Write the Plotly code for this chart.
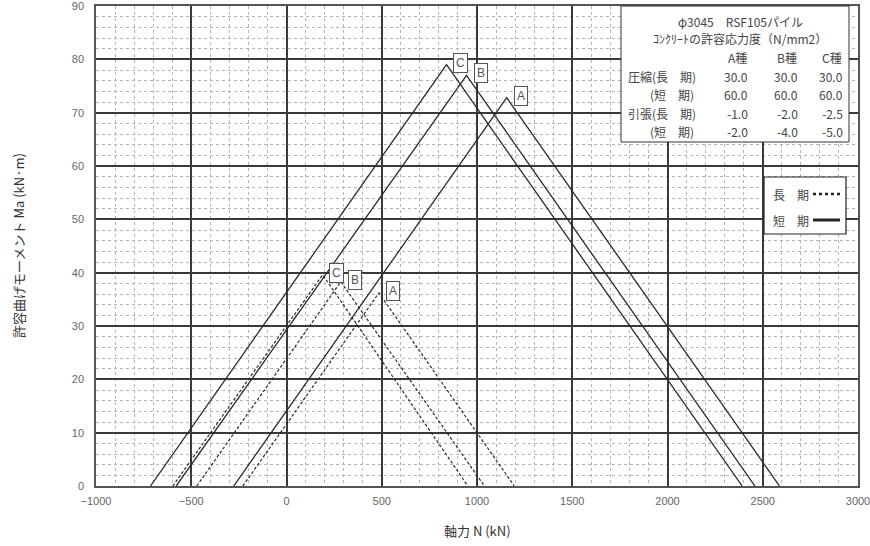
import plotly.graph_objects as go

# ---- data ----
types = ["A", "B", "C"]
# short-term (solid): left intercept N, peak N, peak M, right intercept N
short_left = [-277, -579, -714]
short_peak_n = [1156, 945, 840]
short_peak_m = [72.8, 77.0, 79.0]
short_right = [2588, 2459, 2392]
# long-term (dashed)
long_left = [-229, -471, -597]
long_peak_n = [485, 285, 190]
long_peak_m = [36.2, 38.3, 39.6]
long_right = [1196, 1039, 952]

x_ticks = [-1000, -500, 0, 500, 1000, 1500, 2000, 2500, 3000]
y_ticks = [0, 10, 20, 30, 40, 50, 60, 70, 80, 90]

table_title1 = "φ3045　RSF105パイル"
table_title2 = "ｺﾝｸﾘｰﾄの許容応力度（N/mm2）"
table_cols = ["A種", "B種", "C種"]
table_rows = ["圧縮(長　期)", "(短　期)", "引張(長　期)", "(短　期)"]
table_vals = [["30.0", "30.0", "30.0"],
              ["60.0", "60.0", "60.0"],
              ["-1.0", "-2.0", "-2.5"],
              ["-2.0", "-4.0", "-5.0"]]

W, H = 870, 546
ML, MR, MT, MB = 96, 12, 6, 60
PW, PH = W - ML - MR, H - MT - MB


def px(x):
    return (x - ML) / PW


def py(y):
    return (MT + PH - y) / PH


fig = go.Figure()
LINE = "#2a2a2a"
for i, t in enumerate(types):
    fig.add_trace(go.Scatter(
        x=[short_left[i], short_peak_n[i], short_right[i]],
        y=[0, short_peak_m[i], 0], mode="lines",
        line=dict(color=LINE, width=1.3), showlegend=False, hoverinfo="skip"))
    fig.add_trace(go.Scatter(
        x=[long_left[i], long_peak_n[i], long_right[i]],
        y=[0, long_peak_m[i], 0], mode="lines",
        line=dict(color=LINE, width=1.2, dash="3px,2px"), showlegend=False, hoverinfo="skip"))

annotations = []
for i, t in enumerate(types):
    for xn, ym in ((short_peak_n[i], short_peak_m[i]), (long_peak_n[i], long_peak_m[i])):
        annotations.append(dict(
            x=xn, y=ym, xref="x", yref="y", text=t, showarrow=False,
            xshift=14, yshift=2, bgcolor="white", bordercolor="#555", borderwidth=1,
            borderpad=2, font=dict(family="Liberation Sans", size=12, color="#555")))

TF = "Noto Sans CJK JP"
TC = "#444"
# table
annotations.append(dict(x=px(740), y=py(22), xref="paper", yref="paper", text=table_title1,
                        showarrow=False, xanchor="center", yanchor="middle",
                        font=dict(family=TF, size=12, color=TC)))
annotations.append(dict(x=px(740), y=py(39), xref="paper", yref="paper", text=table_title2,
                        showarrow=False, xanchor="center", yanchor="middle",
                        font=dict(family=TF, size=12, color=TC)))
col_x = [750, 800, 845]
for j, c in enumerate(table_cols):
    annotations.append(dict(x=px(col_x[j] - 1), y=py(58), xref="paper", yref="paper", text=c,
                            showarrow=False, xanchor="right", yanchor="middle",
                            font=dict(family=TF, size=12, color=TC)))
row_y = [76, 94.5, 113, 131]
for r, lab in enumerate(table_rows):
    lx = 626 if lab.startswith("圧") or lab.startswith("引") else 648
    annotations.append(dict(x=px(lx), y=py(row_y[r]), xref="paper", yref="paper", text=lab,
                            showarrow=False, xanchor="left", yanchor="middle",
                            font=dict(family=TF, size=12, color=TC)))
    for j in range(3):
        annotations.append(dict(x=px(col_x[j]), y=py(row_y[r]), xref="paper", yref="paper",
                                text=table_vals[r][j], showarrow=False, xanchor="right",
                                yanchor="middle", font=dict(family=TF, size=12, color=TC)))

# legend labels
annotations.append(dict(x=px(771), y=py(194), xref="paper", yref="paper", text="長　期",
                        showarrow=False, xanchor="left", yanchor="middle",
                        font=dict(family=TF, size=12, color=TC)))
annotations.append(dict(x=px(771), y=py(220), xref="paper", yref="paper", text="短　期",
                        showarrow=False, xanchor="left", yanchor="middle",
                        font=dict(family=TF, size=12, color=TC)))

# axis titles
annotations.append(dict(x=px(477), y=py(530), xref="paper", yref="paper", text="軸力 N (kN)",
                        showarrow=False, xanchor="center", yanchor="middle",
                        font=dict(family=TF, size=13, color="#333")))
annotations.append(dict(x=px(18), y=py(246), xref="paper", yref="paper",
                        text="許容曲げモーメント Ma (kN·m)", textangle=-90,
                        showarrow=False, xanchor="center", yanchor="middle",
                        font=dict(family=TF, size=13, color="#333")))

shapes = [
    dict(type="rect", xref="paper", yref="paper", x0=px(621), x1=px(849), y0=py(142), y1=py(6),
         fillcolor="white", line=dict(color="#333", width=1), layer="above"),
    dict(type="rect", xref="paper", yref="paper", x0=px(764), x1=px(846), y0=py(234), y1=py(177),
         fillcolor="white", line=dict(color="#222", width=1.2), layer="above"),
    dict(type="line", xref="paper", yref="paper", x0=px(813), x1=px(840), y0=py(194), y1=py(194),
         line=dict(color="#222", width=2.5, dash="dot"), layer="above"),
    dict(type="line", xref="paper", yref="paper", x0=px(813), x1=px(840), y0=py(220), y1=py(220),
         line=dict(color="#222", width=3), layer="above"),
]

axis_common = dict(
    showgrid=True, gridcolor="#3a3a3a", gridwidth=1.6,
    showline=True, linecolor="#555", linewidth=1.5, mirror=True,
    ticks="", zeroline=False, ticklabeloverflow="allow",
    tickfont=dict(family="Liberation Sans", size=11, color="#666"),
)

fig.update_layout(
    width=W, height=H,
    margin=dict(l=ML, r=MR, t=MT, b=MB, autoexpand=False),
    paper_bgcolor="white", plot_bgcolor="white",
    showlegend=False,
    xaxis=dict(range=[-1000, 3000], tickvals=x_ticks, ticklabelstandoff=4,
               minor=dict(dtick=100, showgrid=True, gridcolor="#b5b5b5", griddash="dot", gridwidth=1),
               **axis_common),
    yaxis=dict(range=[0, 90], tickvals=y_ticks, ticklabelstandoff=8,
               minor=dict(dtick=2, showgrid=True, gridcolor="#b5b5b5", griddash="dot", gridwidth=1),
               **axis_common),
    annotations=annotations,
    shapes=shapes,
)

fig.write_html("out.html", config={"displayModeBar": False},
               post_script="document.body.style.margin='0';")
